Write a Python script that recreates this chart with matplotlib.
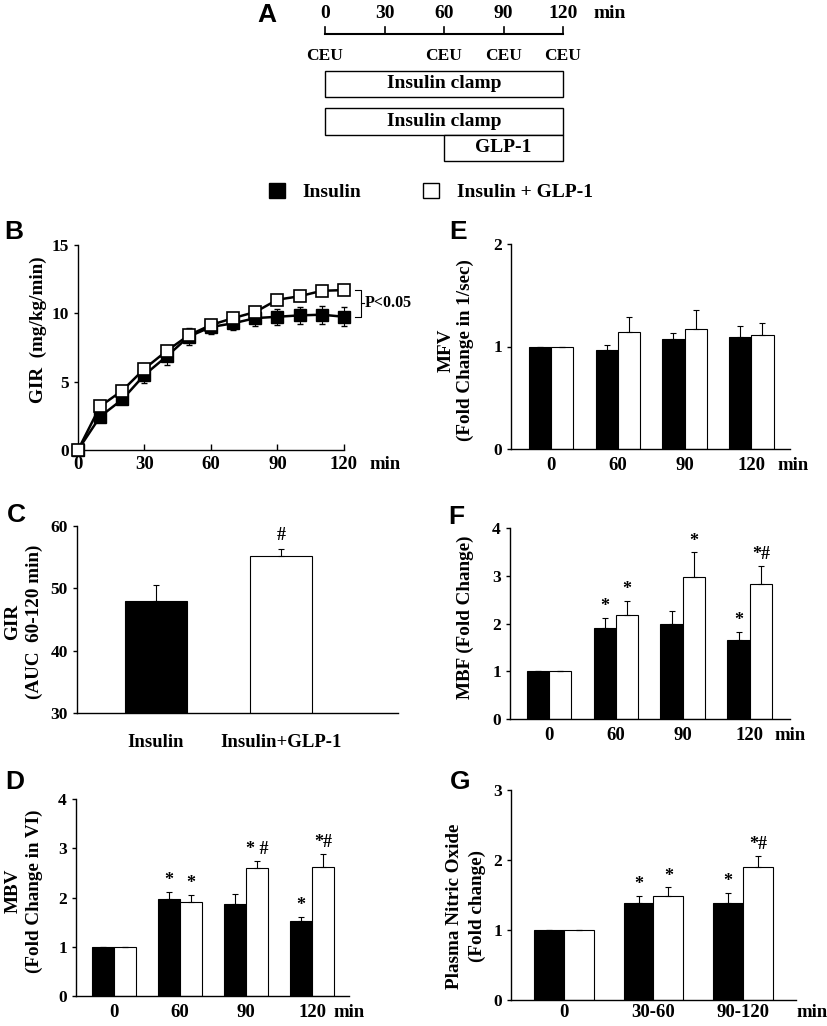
import numpy as np
import matplotlib
matplotlib.use('Agg')
import matplotlib.pyplot as plt
from matplotlib.patches import Rectangle, Patch

plt.rcParams['font.family'] = 'Liberation Serif'
plt.rcParams['font.weight'] = 'bold'
plt.rcParams['axes.linewidth'] = 1.0

# ---------------- data ----------------
# A: study protocol (minutes)
protocol_ticks = [0, 30, 60, 90, 120]
ceu_times = [0, 60, 90, 120]
clamp_start, clamp_end = 0, 120
glp1_start, glp1_end = 60, 120

# B: glucose infusion rate over time
gir_time = [0, 10, 20, 30, 40, 50, 60, 70, 80, 90, 100, 110, 120]
gir_ins = [0, 2.45, 3.7, 5.5, 6.85, 8.3, 9.0, 9.27, 9.65, 9.75, 9.85, 9.9, 9.75]
gir_ins_err = [0, 0.2, 0.3, 0.6, 0.6, 0.6, 0.5, 0.5, 0.6, 0.6, 0.6, 0.65, 0.7]
gir_glp = [0, 3.2, 4.35, 5.95, 7.25, 8.4, 9.15, 9.65, 10.1, 11.0, 11.25, 11.65, 11.7]
gir_glp_err = [0, 0.2, 0.2, 0.2, 0.2, 0.3, 0.3, 0.2, 0.3, 0.3, 0.3, 0.2, 0.2]

# C: GIR AUC 60-120 min
auc_groups = ['Insulin', 'Insulin+GLP-1']
auc_vals = [48.0, 55.2]
auc_err = [2.6, 1.1]
auc_sig = ['', '#']

# D: MBV
time_cats = ['0', '60', '90', '120']
mbv_ins = [1.0, 1.96, 1.86, 1.52]
mbv_ins_err = [0, 0.16, 0.22, 0.09]
mbv_glp = [1.0, 1.91, 2.59, 2.61]
mbv_glp_err = [0, 0.15, 0.16, 0.28]
mbv_ins_sig = ['', '*', '', '*']
mbv_glp_sig = ['', '*', '* #', '*#']

# E: MFV
mfv_ins = [1.0, 0.97, 1.07, 1.09]
mfv_ins_err = [0, 0.04, 0.06, 0.11]
mfv_glp = [1.0, 1.14, 1.17, 1.11]
mfv_glp_err = [0, 0.15, 0.19, 0.12]
mfv_ins_sig = ['', '', '', '']
mfv_glp_sig = ['', '', '', '']

# F: MBF
mbf_ins = [1.0, 1.9, 1.98, 1.65]
mbf_ins_err = [0, 0.22, 0.28, 0.17]
mbf_glp = [1.0, 2.17, 2.97, 2.82]
mbf_glp_err = [0, 0.3, 0.52, 0.38]
mbf_ins_sig = ['', '*', '', '*']
mbf_glp_sig = ['', '*', '*', '*#']

# G: plasma NO
no_cats = ['0', '30-60', '90-120']
no_ins = [1.0, 1.38, 1.38]
no_ins_err = [0, 0.105, 0.15]
no_glp = [1.0, 1.48, 1.9]
no_glp_err = [0, 0.13, 0.16]
no_ins_sig = ['', '*', '*']
no_glp_sig = ['', '*', '*#']

# ---------------- layout ----------------
W, H = 828, 1026
fig = plt.figure(figsize=(W / 100, H / 100), dpi=100)

XFS = 13.5   # x tick labels
YFS = 12.5   # y tick labels
LFS = 13.8   # axis labels
SFS = 13     # significance marks


def px_axes(x0, x1, y_top, y_bot):
    return fig.add_axes([x0 / W, 1 - y_bot / H, (x1 - x0) / W, (y_bot - y_top) / H])


def letter(x, y, s):
    fig.text(x / W, 1 - y / H, s, family='Liberation Sans', weight='bold',
             fontsize=19, ha='center', va='center')


def ylab(x, y, s, ls=1.35):
    fig.text(x / W, 1 - y / H, s, rotation=90, ha='center', va='center',
             fontsize=LFS, linespacing=ls, multialignment='center')


def style(ax, xpad):
    ax.spines['top'].set_visible(False)
    ax.spines['right'].set_visible(False)
    ax.tick_params(axis='y', direction='out', length=3, width=1, labelsize=YFS, pad=3.5)
    ax.tick_params(axis='x', length=0, labelsize=XFS, pad=xpad)


def min_label(ax, x, xpad):
    ax.annotate('min', xy=(x, 0), xycoords=('data', 'axes fraction'),
                xytext=(0, -xpad), textcoords='offset points',
                ha='left', va='top', fontsize=XFS)


def fold_bars(ax, cats, ins, ins_err, glp, glp_err, ins_sig, glp_sig, xpad):
    x = np.arange(len(cats))
    w = 1 / 3
    ekw = dict(ecolor='black', elinewidth=0.8, capsize=2, capthick=0.8)
    ax.bar(x - w / 2, ins, w, color='black', edgecolor='black', lw=0.8,
           yerr=[np.zeros(len(x)), ins_err], error_kw=ekw)
    ax.bar(x + w / 2, glp, w, color='white', edgecolor='black', lw=0.8,
           yerr=[np.zeros(len(x)), glp_err], error_kw=ekw)
    for xs, vals, errs, sigs in [(x - w / 2, ins, ins_err, ins_sig),
                                 (x + w / 2, glp, glp_err, glp_sig)]:
        for xi, v, e, s in zip(xs, vals, errs, sigs):
            if s:
                ax.annotate(s, (xi, v + e), xytext=(0, 2), textcoords='offset points',
                            ha='center', va='bottom', fontsize=SFS)
    ax.set_xticks(x, cats)
    style(ax, xpad)


# ---------------- A ----------------
axA = px_axes(220, 640, 0, 205)
s = (563 - 325) / 120
axA.set_xlim((220 - 325) / s, (640 - 325) / s)
axA.set_ylim(205, 0)
axA.axis('off')
axA.plot([protocol_ticks[0], protocol_ticks[-1]], [34, 34], color='black', lw=1.5)
for t in protocol_ticks:
    axA.plot([t, t], [27, 34], color='black', lw=1.2)
    axA.text(t, 13, str(t), ha='center', va='center', fontsize=14)
axA.text((593 - 325) / s, 13, 'min', ha='left', va='center', fontsize=14)
for t in ceu_times:
    axA.text(t, 56, 'CEU', ha='center', va='center', fontsize=12.5)
axA.add_patch(Rectangle((clamp_start, 71), clamp_end - clamp_start, 26, fc='white', ec='black', lw=1))
axA.text((clamp_start + clamp_end) / 2, 84, 'Insulin clamp', ha='center', va='center', fontsize=14)
axA.add_patch(Rectangle((clamp_start, 108), clamp_end - clamp_start, 27, fc='white', ec='black', lw=1))
axA.text((clamp_start + clamp_end) / 2, 121, 'Insulin clamp', ha='center', va='center', fontsize=14)
axA.add_patch(Rectangle((glp1_start, 135), glp1_end - glp1_start, 26, fc='white', ec='black', lw=1))
axA.text((glp1_start + glp1_end) / 2, 148, 'GLP-1', ha='center', va='center', fontsize=14)
letter(267, 15, 'A')

fig.legend(handles=[Patch(fc='black', ec='black'), Patch(fc='white', ec='black')],
           labels=['Insulin', 'Insulin + GLP-1'], loc='center',
           bbox_to_anchor=(431 / W, 1 - 192 / H), ncol=2, frameon=False,
           handlelength=0.8, handleheight=0.8, handletextpad=0.9, columnspacing=3.2,
           prop=dict(family='Liberation Serif', weight='bold', size=14))

# ---------------- B ----------------
axB = px_axes(78, 344, 245, 450)
axB.errorbar(gir_time, gir_ins, yerr=gir_ins_err, color='black', lw=1.8, marker='s',
             ms=8.5, mfc='black', mec='black', ecolor='black', elinewidth=0.8,
             capsize=2.5, clip_on=False, zorder=3)
axB.errorbar(gir_time, gir_glp, yerr=gir_glp_err, color='black', lw=1.8, marker='s',
             ms=8.5, mfc='white', mec='black', mew=1.2, ecolor='black', elinewidth=0.8,
             capsize=2.5, clip_on=False, zorder=4)
axB.set_xlim(0, 120)
axB.set_ylim(0, 15)
axB.set_xticks([0, 30, 60, 90, 120])
axB.set_yticks([0, 5, 10, 15])
style(axB, 4)
axB.tick_params(axis='x', direction='in', length=4, width=1)
ylab(38, 330, 'GIR  (mg/kg/min)')
min_label(axB, 131.5, 4)
top, bot = gir_glp[-1], gir_ins[-1]
axB.plot([125, 127.5, 127.5, 125], [top, top, bot, bot], color='black', lw=0.8, clip_on=False)
axB.plot([127.5, 129], [(top + bot) / 2] * 2, color='black', lw=0.8, clip_on=False)
axB.text(129.5, (top + bot) / 2, 'P<0.05', ha='left', va='center', fontsize=11.5)
letter(14, 232, 'B')

# ---------------- C ----------------
axC = px_axes(77, 398, 526, 713)
xc = np.arange(len(auc_groups))
axC.bar(xc, auc_vals, 0.5, color=['black', 'white'], edgecolor='black', lw=0.8,
        yerr=[np.zeros(len(xc)), auc_err],
        error_kw=dict(ecolor='black', elinewidth=0.8, capsize=2, capthick=0.8))
for xi, v, e, sg in zip(xc, auc_vals, auc_err, auc_sig):
    if sg:
        axC.annotate(sg, (xi, v + e), xytext=(0, 4), textcoords='offset points',
                     ha='center', va='bottom', fontsize=SFS)
axC.set_xlim(-0.632, 1.936)
axC.set_ylim(30, 60)
axC.set_yticks([30, 40, 50, 60])
axC.set_xticks(xc, auc_groups)
style(axC, 15)
ylab(24, 622, 'GIR\n(AUC  60-120 min)')
letter(16, 515, 'C')

# ---------------- D ----------------
axD = px_axes(76, 349, 799, 996)
fold_bars(axD, time_cats, mbv_ins, mbv_ins_err, mbv_glp, mbv_glp_err, mbv_ins_sig, mbv_glp_sig, 5.5)
axD.set_xlim(-0.576, 3.56)
axD.set_ylim(0, 4)
axD.set_yticks([0, 1, 2, 3, 4])
ylab(24, 891, 'MBV\n(Fold Change in VI)')
min_label(axD, 3.32, 5.5)
letter(15, 782, 'D')

# ---------------- E ----------------
axE = px_axes(511, 790, 244, 449)
fold_bars(axE, time_cats, mfv_ins, mfv_ins_err, mfv_glp, mfv_glp_err, mfv_ins_sig, mfv_glp_sig, 5.5)
axE.set_xlim(-0.6, 3.58)
axE.set_ylim(0, 2)
axE.set_yticks([0, 1, 2])
ylab(456, 350, 'MFV\n(Fold Change in 1/sec)', ls=1.15)
min_label(axE, 3.39, 5.5)
letter(458, 232, 'E')

# ---------------- F ----------------
axF = px_axes(510, 790, 528, 719)
fold_bars(axF, time_cats, mbf_ins, mbf_ins_err, mbf_glp, mbf_glp_err, mbf_ins_sig, mbf_glp_sig, 5.5)
axF.set_xlim(-0.58, 3.6)
axF.set_ylim(0, 4)
axF.set_yticks([0, 1, 2, 3, 4])
ylab(465, 617, 'MBF (Fold Change)')
min_label(axF, 3.37, 5.5)
letter(456, 517, 'F')

# ---------------- G ----------------
axG = px_axes(511, 796, 790, 1000)
fold_bars(axG, no_cats, no_ins, no_ins_err, no_glp, no_glp_err, no_ins_sig, no_glp_sig, 3)
axG.set_xlim(-0.59, 2.59)
axG.set_ylim(0, 3)
axG.set_yticks([0, 1, 2, 3])
ylab(466, 906, 'Plasma Nitric Oxide\n(Fold change)', ls=1.4)
min_label(axG, 2.6, 3)
letter(460, 782, 'G')

fig.savefig('out.png', dpi=100)
